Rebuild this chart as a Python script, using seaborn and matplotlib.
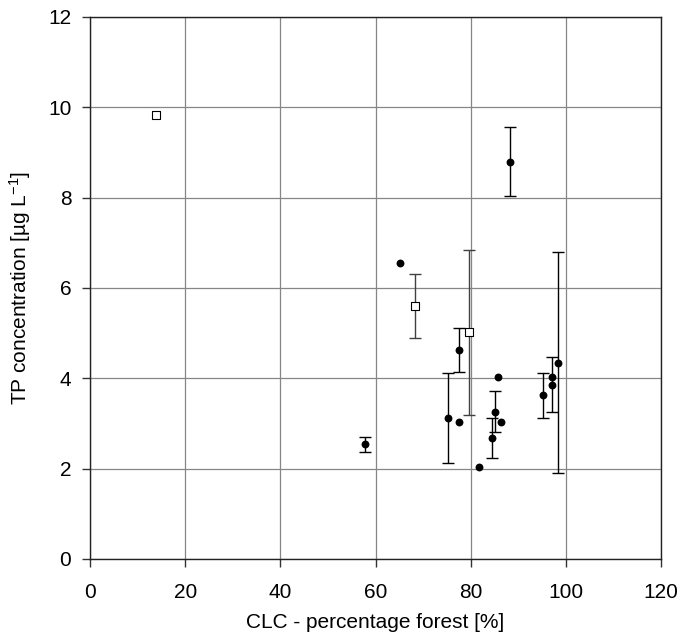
import numpy as np
import pandas as pd
import seaborn as sns
import matplotlib
matplotlib.use("Agg")
import matplotlib.pyplot as plt

# sites with filled circles
forest_dots = [57.75, 65.2, 75.2, 77.6, 77.6, 81.7, 84.4, 85.2, 85.8, 86.4, 88.35, 95.2, 97.1, 97.1, 98.25]
tp_dots = [2.54, 6.56, 3.12, 4.63, 3.04, 2.03, 2.68, 3.26, 4.02, 3.04, 8.80, 3.62, 4.02, 3.86, 4.35]
err_dots = [0.16, 0, 1.0, 0.48, 0, 0, 0.45, 0.45, 0, 0, 0.76, 0.49, 0, 0.61, 2.45]

# sites with open squares
forest_sq = [13.8, 68.3, 79.6]
tp_sq = [9.83, 5.6, 5.02]
err_sq = [0, 0.7, 1.83]

x_ticks = [0, 20, 40, 60, 80, 100, 120]
y_ticks = [0, 2, 4, 6, 8, 10, 12]

sns.set_style("white")
plt.rcParams['font.family'] = ['Liberation Sans', 'DejaVu Sans']
plt.rcParams['mathtext.fontset'] = 'custom'
plt.rcParams['mathtext.rm'] = 'Liberation Sans'
plt.rcParams['mathtext.it'] = 'Liberation Sans'
plt.rcParams['text.color'] = 'black'
plt.rcParams['axes.labelcolor'] = 'black'
plt.rcParams['xtick.color'] = 'black'
plt.rcParams['ytick.color'] = 'black'

dots = pd.DataFrame({"forest": forest_dots, "tp": tp_dots, "err": err_dots})
squares = pd.DataFrame({"forest": forest_sq, "tp": tp_sq, "err": err_sq})

fig = plt.figure(figsize=(6.81, 6.39), dpi=100)
ax = fig.add_axes([0.1322, 0.1252, 0.8385, 0.8482])

ax.grid(True, color="#868686", lw=0.9)
ax.set_axisbelow(True)

# error bars first, markers on top
for df, col in [(dots, "black"), (squares, "#404040")]:
    sub = df[df["err"] > 0]
    ax.errorbar(sub["forest"], sub["tp"], yerr=sub["err"], fmt="none",
                ecolor=col, elinewidth=1.0, capsize=4, capthick=1.0, zorder=2)

sns.scatterplot(data=dots, x="forest", y="tp", ax=ax, marker="o", color="black",
                s=32, edgecolor="black", linewidth=0, zorder=3)
sns.scatterplot(data=squares, x="forest", y="tp", ax=ax, marker="s", color="white",
                s=36, edgecolor="black", linewidth=0.8, zorder=3)

ax.set_xlim(0, 120)
ax.set_ylim(0, 12)
ax.set_xticks(x_ticks)
ax.set_yticks(y_ticks)
ax.tick_params(axis="both", direction="out", length=5.5, width=1, color="#333333",
               labelcolor="black", labelsize=15, bottom=True, left=True)
ax.tick_params(axis="x", pad=12)
ax.tick_params(axis="y", pad=8)

for side in ["top", "right", "left", "bottom"]:
    ax.spines[side].set_color("#222222")
    ax.spines[side].set_linewidth(1.0)

ax.set_xlabel("CLC - percentage forest [%]", fontsize=15, color="black")
ax.set_ylabel(r"TP concentration [µg L$^{-1}$]", fontsize=15, color="black")
ax.xaxis.set_label_coords(0.5, -0.10)
ax.yaxis.set_label_coords(-0.10, 0.5)

plt.savefig("out.png", dpi=100)
